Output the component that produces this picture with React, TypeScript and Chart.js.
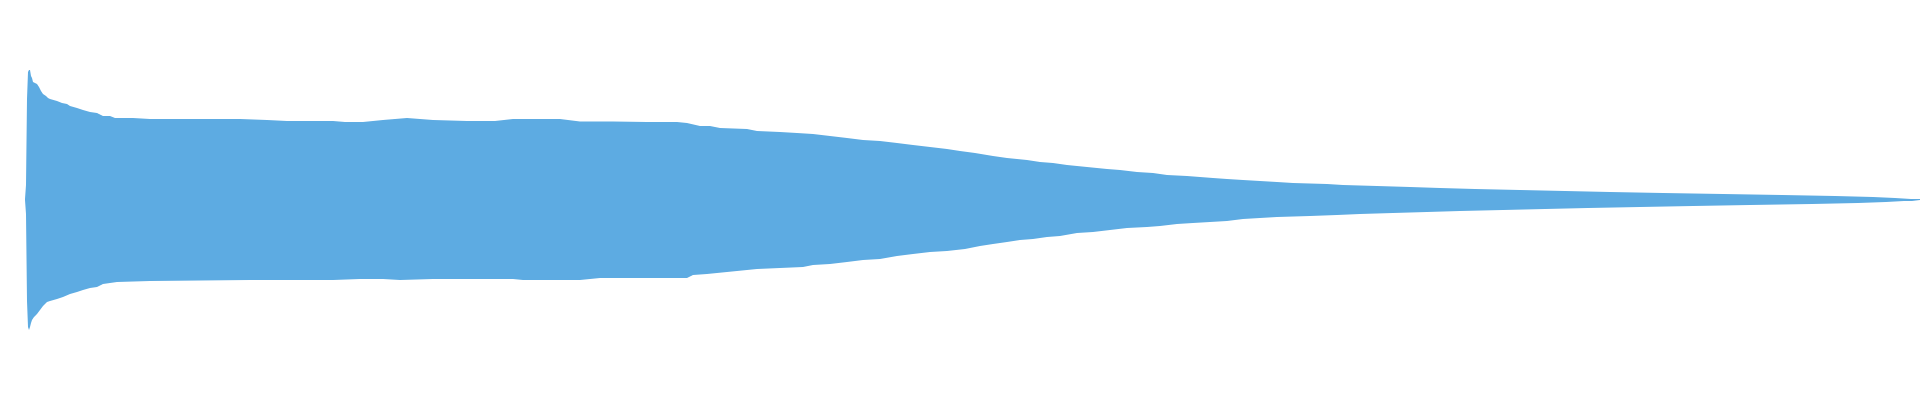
import React, { useEffect, useRef } from "react";
import { Chart, registerables } from "chart.js";

Chart.register(...registerables);

// Waveform envelope: time (sample column index) and amplitude (arbitrary units, full scale ±130)
const upperTime = [0, 1, 2, 3, 4, 5, 6, 7, 8, 10, 12, 14, 16, 18, 21, 23, 25, 32, 37, 42, 45, 52, 58, 65, 72, 78, 85, 90, 108, 125, 215, 242, 262, 308, 320, 338, 358, 382, 408, 442, 470, 488, 535, 555, 588, 622, 652, 662, 675, 685, 695, 722, 732, 755, 772, 788, 805, 822, 838, 855, 872, 888, 905, 922, 935, 950, 968, 982, 992, 1002, 1015, 1028, 1042, 1062, 1072, 1082, 1095, 1112, 1128, 1142, 1162, 1175, 1188, 1202, 1218, 1235, 1252, 1268, 1302, 1318, 1352, 1385, 1415, 1450, 1495, 1540, 1585, 1638, 1698, 1757, 1810, 1848, 1870, 1886, 1895];
const upperAmp = [1, 15, 101, 128, 130, 130, 124, 122, 118, 117, 116, 113, 109, 106, 104, 102, 101, 99, 97, 96, 94, 92, 90, 88, 87, 84, 84, 82, 82, 81, 81, 80, 79, 79, 78, 78, 80, 82, 80, 79, 79, 81, 81, 78.5, 78.5, 78, 78, 77, 74, 74, 72, 71, 69, 68, 67, 66, 64, 62, 60, 59, 57, 55, 53, 51, 49, 47, 44, 42, 41, 40, 38, 37, 35, 33, 32, 31, 30, 28, 27, 25, 24, 23, 22, 21, 20, 19, 18, 17, 16, 15, 14, 13, 12, 11, 10, 9, 8, 7, 6, 5, 4, 3, 2, 1, 1];

const lowerTime = [0, 1, 2, 3, 4, 5, 6, 7, 9, 12, 15, 18, 22, 25, 32, 38, 45, 52, 58, 65, 72, 78, 85, 92, 125, 225, 308, 335, 358, 375, 408, 455, 488, 498, 555, 575, 662, 668, 682, 702, 722, 732, 755, 778, 788, 805, 822, 838, 855, 872, 888, 905, 922, 940, 955, 968, 982, 995, 1008, 1022, 1035, 1052, 1068, 1085, 1102, 1122, 1135, 1152, 1168, 1185, 1202, 1218, 1235, 1252, 1285, 1312, 1335, 1368, 1402, 1435, 1478, 1520, 1563, 1615, 1668, 1725, 1787, 1833, 1861, 1879, 1887, 1895];
const lowerAmp = [0, -14, -101, -127, -130, -127, -123, -120, -117, -114, -110, -106, -102, -101, -99, -97, -94, -92, -90, -88, -87, -84, -83, -82, -81, -80, -80, -79, -79, -80, -79, -79, -79, -80, -80, -78, -78, -75, -74, -72, -70, -69, -68, -67, -65, -64, -62, -60, -59, -56, -54, -52, -51, -49, -46, -44, -42, -40, -39, -37, -36, -33, -32, -30, -28, -27, -26, -24, -23, -22, -21, -19, -18, -17, -16, -15, -14, -13, -12, -11, -10, -9, -8, -7, -6, -5, -4, -3, -2, -1, -1, 0];

const WAVE_COLOR = "#5dabe2";

export default function App() {
  const canvasRef = useRef<HTMLCanvasElement | null>(null);

  useEffect(() => {
    if (!canvasRef.current) return;
    const upper = upperTime.map((t, i) => ({ x: t, y: upperAmp[i] }));
    const lower = lowerTime.map((t, i) => ({ x: t, y: lowerAmp[i] }));
    const chart = new Chart(canvasRef.current, {
      type: "line",
      data: {
        datasets: [
          {
            label: "max",
            data: upper,
            fill: "+1",
            backgroundColor: WAVE_COLOR,
            borderColor: "rgba(0,0,0,0)",
            borderWidth: 0,
            pointRadius: 0,
            tension: 0,
            clip: false,
          },
          {
            label: "min",
            data: lower,
            fill: false,
            backgroundColor: WAVE_COLOR,
            borderColor: "rgba(0,0,0,0)",
            borderWidth: 0,
            pointRadius: 0,
            tension: 0,
            clip: false,
          },
        ],
      },
      options: {
        responsive: false,
        maintainAspectRatio: false,
        animation: false,
        layout: { padding: 0 },
        plugins: {
          legend: { display: false },
          tooltip: { enabled: false },
          title: { display: false },
        },
        scales: {
          x: { type: "linear", min: 0, max: 1895, display: false },
          y: { type: "linear", min: -130, max: 130, display: false },
        },
      },
    });
    return () => chart.destroy();
  }, []);

  return (
    <div style={{ position: "fixed", left: 0, top: 0, width: 1920, height: 400, background: "#ffffff" }}>
      <canvas
        ref={canvasRef}
        width={1895}
        height={260}
        style={{ position: "absolute", left: 25, top: 70, display: "block", width: 1895, height: 260 }}
      />
    </div>
  );
}
